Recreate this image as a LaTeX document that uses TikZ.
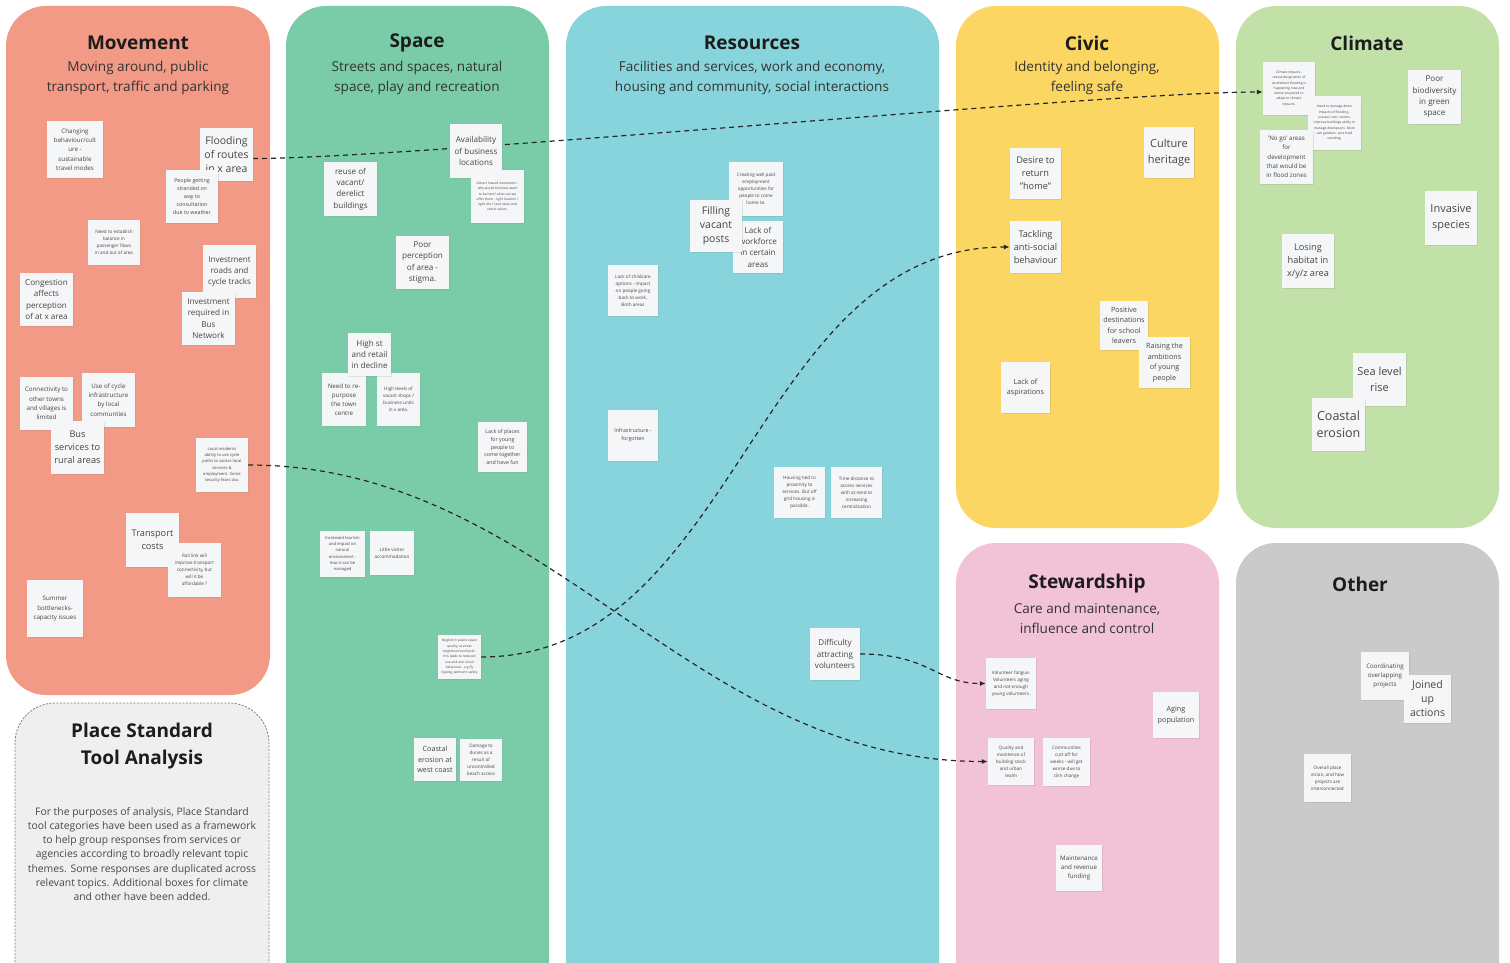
\documentclass[tikz,border=0pt]{standalone}
\usepackage{fontspec}
\setmainfont{Open Sans}
\usetikzlibrary{arrows.meta,shadows}

\definecolor{movecol}{HTML}{F29A86}
\definecolor{spacecol}{HTML}{7ACCA8}
\definecolor{rescol}{HTML}{88D4DC}
\definecolor{civiccol}{HTML}{FBD662}
\definecolor{climcol}{HTML}{C1E1A8}
\definecolor{stewcol}{HTML}{F2C3D6}
\definecolor{othercol}{HTML}{CACACA}
\definecolor{placecol}{HTML}{EFEFEF}
\definecolor{notefill}{HTML}{F5F6F8}
\definecolor{notetext}{HTML}{454545}
\definecolor{headtext}{HTML}{1C1C1C}

\pgfdeclarelayer{bg}
\pgfdeclarelayer{links}
\pgfsetlayers{bg,links,main}

\tikzset{
  column/.style={rounded corners=40pt},
  title/.style={text=headtext, font=\fontsize{19}{27}\selectfont\bfseries, align=center},
  subtitle/.style={text=headtext!90, font=\fontsize{13.6}{20}\selectfont, align=center},
  note/.style={fill=notefill, text=notetext, align=center, inner sep=0pt,
    minimum width=53pt, minimum height=53pt,
    drop shadow={shadow xshift=.8pt, shadow yshift=-.8pt, opacity=.18}},
  sz/.style 2 args={minimum width=#1pt, minimum height=#2pt},
  fA/.style={font=\fontsize{11}{16}\selectfont},
  fB/.style={font=\fontsize{10.5}{14}\selectfont},
  fC/.style={font=\fontsize{9.2}{13}\selectfont},
  fD/.style={font=\fontsize{8.1}{11.3}\selectfont},
  fE/.style={font=\fontsize{7.2}{10.5}\selectfont},
  fF/.style={font=\fontsize{6.2}{9.2}\selectfont},
  fG/.style={font=\fontsize{5.3}{7.8}\selectfont},
  fH/.style={font=\fontsize{4.6}{7}\selectfont},
  fI/.style={font=\fontsize{4.1}{6.2}\selectfont},
  fJ/.style={font=\fontsize{3.3}{5.3}\selectfont},
  link/.style={draw=black!85, line width=1.2pt, dash pattern=on 5pt off 4pt,
    -{Latex[length=6pt,width=5pt]}},
}

\begin{document}
\begin{tikzpicture}[x=1pt,y=-1pt]
  \useasboundingbox (0,0) rectangle (1510,963);
  \clip (0,0) rectangle (1510,963);

  % the topic columns
  \begin{pgfonlayer}{bg}
    \fill[white] (0,0) rectangle (1510,963);
    \fill[movecol,column] (6,6) rectangle (270,695);
    \fill[spacecol,column] (286,6) rectangle (549,1010);
    \fill[rescol,column] (566,6) rectangle (939,1010);
    \fill[civiccol,column] (956,6) rectangle (1219,528);
    \fill[climcol,column] (1236,6) rectangle (1499,528);
    \fill[stewcol,column] (956,543) rectangle (1219,1010);
    \fill[othercol,column] (1236,543) rectangle (1499,1010);
    \filldraw[placecol,draw=black!50,line width=.8pt,dash pattern=on 2pt off 1.5pt,column]
      (15,703) rectangle (269,1010);
  \end{pgfonlayer}

  % headings
  \draw
    (138,43) node[title] (movehead) {Movement}
    (138,78) node[subtitle] (movesub) {Moving around, public\\transport, traffic and parking}
    (417,43) node[title] (spacehead) {Space}
    (417,78) node[subtitle] (spacesub) {Streets and spaces, natural\\space, play and recreation}
    (752,43) node[title] (reshead) {Resources}
    (752,78) node[subtitle] (ressub) {Facilities and services, work and economy,\\housing and community, social interactions}
    (1087,43) node[title] (civichead) {Civic}
    (1087,78) node[subtitle] (civicsub) {Identity and belonging,\\feeling safe}
    (1367,43) node[title] (climhead) {Climate}
    (1087,584) node[title] (stewhead) {Stewardship}
    (1087,618) node[subtitle] (stewsub) {Care and maintenance,\\influence and control}
    (1360,584) node[title] (otherhead) {Other}
    (142,746) node[title] (placehead) {Place Standard\\Tool Analysis}
    (142,854) node[subtitle,font=\fontsize{10.4}{14.3}\selectfont,text=headtext!80] (placetext)
      {For the purposes of analysis, Place Standard\\tool categories have been used as a framework\\to help group responses from services or\\agencies according to broadly relevant topic\\themes. Some responses are duplicated across\\relevant topics. Additional boxes for climate\\and other have been added.};

  % movement
  \draw
    (75,149.5) node[note,fF,sz={56}{57}] (chg) {Changing\\behaviour/cult\\ure -\\sustainable\\travel modes}
    (226.5,154.5) node[note,fB] (flood) {Flooding\\of routes\\in x area}
    (192,196.5) node[note,fG,sz={52}{53}] (strand) {People getting\\stranded on\\way to\\consultation\\due to weather}
    (114,242.5) node[note,fH,sz={52}{45}] (balance) {Need to establish\\balance in\\passenger flows\\in and out of area}
    (229.5,271.5) node[note,fD] (invroad) {Investment\\roads and\\cycle tracks}
    (208.5,318.5) node[note,fD] (invbus) {Investment\\required in\\Bus\\Network}
    (46.5,299.5) node[note,fD] (cong) {Congestion\\affects\\perception\\of at x area}
    (46.5,403.5) node[note,fF] (conn) {Connectivity to\\other towns\\and villages is\\limited}
    (108.5,400) node[note,fF,sz={53}{54}] (cycle) {Use of cycle\\infrastructure\\by local\\communties}
    (77.5,447.5) node[note,fC] (bus) {Bus\\services to\\rural areas}
    (222,465) node[note,fI,sz={52}{54}] (local) {Local residents\\ability to use cycle\\paths to access local\\services \&\\employment. Some\\security fears too.}
    (152.5,540) node[note,fC,sz={53}{54}] (tcost) {Transport\\costs}
    (194.5,570) node[note,fH,sz={53}{54}] (rail) {Rail link will\\improve transport\\connectivity, but\\will it be\\affordable ?}
    (55,608.5) node[note,fF,sz={56}{57}] (summer) {Summer\\bottlenecks-\\capacity issues};

  % space
  \draw
    (476,151) node[note,fD,sz={52}{54}] (avail) {Availability\\of business\\locations}
    (497.5,196.5) node[note,fJ] (attract) {Attract inward investment -\\why would business want\\to be here? what can we\\offer them - right location /\\right site / land value and\\rental values.}
    (350.5,189) node[note,fD,sz={53}{54}] (reuse) {reuse of\\vacant/\\derelict\\buildings}
    (422.5,262.5) node[note,fD] (poor) {Poor\\perception\\of area -\\stigma.}
    (344,399.5) node[note,fF,sz={44}{53}] (repurp) {Need to re-\\purpose\\the town\\centre}
    (398.5,399.5) node[note,fH,sz={43}{53}] (vacshop) {High levels of\\vacant shops /\\business units\\in x area.}
    (369.5,354.5) node[note,fD,sz={43}{43}] (highst) {High st\\and retail\\in decline}
    (502.5,447) node[note,fG,sz={49}{50}] (young) {Lack of places\\for young\\people to\\come together\\and have fun}
    (342.5,554) node[note,fI,sz={45}{46}] (tourism) {Increased tourism\\and impact on\\natural\\environment -\\how it can be\\managed}
    (392,553) node[note,fH,sz={44}{44}] (visitor) {Little visitor\\accommodation}
    (459.5,657) node[note,fJ,sz={43}{44}] (neglect) {Neglect in public space\\quality, at street\\neighbourhood level -\\this leads to reduced\\use and anti social\\behaviour - e.g fly\\tipping, woman's safety}
    (435,759.5) node[note,fE,sz={42}{43}] (coastw) {Coastal\\erosion at\\west coast}
    (481,760) node[note,fH,sz={42}{42}] (dunes) {Damage to\\dunes as a\\result of\\uncontrolled\\beach access};

  % resources
  \draw
    (756,189) node[note,fH,sz={54}{54}] (create) {Creating well paid\\employment\\opportunities for\\people to come\\home to.}
    (758,247) node[note,fD,sz={50}{52}] (workforce) {Lack of\\workforce\\in certain\\areas}
    (716,226) node[note,fB,sz={52}{52}] (filling) {Filling\\vacant\\posts}
    (633,290.5) node[note,fH,sz={50}{51}] (childcare) {Lack of childcare\\options - impact\\on people going\\back to work.\\Both areas}
    (633,435.5) node[note,fG,sz={50}{51}] (infra) {Infrastructure -\\forgotten}
    (799.5,492.5) node[note,fH,sz={51}{51}] (housing) {Housing tied to\\proximity to\\services. But off\\grid housing is\\possible.}
    (856.5,492.5) node[note,fH,sz={51}{51}] (timedist) {Time distance to\\access services\\with at rend to\\increasing\\centralisation}
    (835,654) node[note,fD,sz={50}{52}] (volunt) {Difficulty\\attracting\\volunteers};

  % civic
  \draw
    (1035.5,173.5) node[note,fC,sz={51}{51}] (desire) {Desire to\\return\\"home"}
    (1169,152.5) node[note,fA,sz={50}{51}] (culture) {Culture\\heritage}
    (1035.5,247) node[note,fC,sz={51}{52}] (tackling) {Tackling\\anti-social\\behaviour}
    (1124,325.5) node[note,fE,sz={48}{49}] (posdest) {Positive\\destinations\\for school\\leavers}
    (1164.5,362.5) node[note,fE,sz={51}{51}] (raising) {Raising the\\ambitions\\of young\\people}
    (1025.5,387.5) node[note,fE,sz={49}{51}] (lackasp) {Lack of\\aspirations};

  % climate
  \draw
    (1289,88.5) node[note,fJ,sz={52}{53}] (climimp) {Climate impacts -\\review designation of\\land where flooding is\\happening now and\\where projected to\\adapt to climate\\impacts.}
    (1334.5,123) node[note,fJ,sz={53}{54}] (manage) {Need to manage down\\impacts of flooding -\\coastal, river, storms.\\Improve buildings ability to\\manage downpours. More\\rain gardens. Less hard\\standing.}
    (1286.5,157) node[note,fF,sz={53}{54}] (nogo) {'No go' areas\\for\\development\\that would be\\in flood zones}
    (1434.5,97) node[note,fD,sz={53}{54}] (biodiv) {Poor\\biodiversity\\in green\\space}
    (1451,218) node[note,fA,sz={52}{54}] (invasive) {Invasive\\species}
    (1308,261) node[note,fC,sz={52}{54}] (habitat) {Losing\\habitat in\\x/y/z area}
    (1379.5,379.5) node[note,fA] (sealevel) {Sea level\\rise}
    (1338.5,424.5) node[note,font=\fontsize{12.5}{17}\selectfont] (coastal) {Coastal\\erosion};

  % stewardship
  \draw
    (1011,683.5) node[note,fH,sz={50}{51}] (volfat) {Volunteer fatigue.\\Volunteers aging\\and not enough\\young volunteers.}
    (1176,715) node[note,fE,sz={46}{46}] (aging) {Aging\\population}
    (1011,761.5) node[note,fH,sz={46}{47}] (quality) {Quality and\\maintence of\\building stock\\and urban\\realm}
    (1066.5,762) node[note,fH,sz={47}{48}] (cutoff) {Communities\\cutt off for\\weeks - will get\\worse due to\\clim change}
    (1079,868) node[note,fF,sz={46}{46}] (funding) {Maintenance\\and revenue\\funding};

  % other
  \draw
    (1385,676) node[note,fF,sz={48}{48}] (coord) {Coordinating\\overlapping\\projects}
    (1427.5,699) node[note,fB,sz={47}{48}] (joined) {Joined\\up\\actions}
    (1327.5,778) node[note,fH,sz={47}{48}] (vision) {Overall place\\vision, and how\\projects are\\interconnected};

  % links between topics
  \begin{pgfonlayer}{links}
  \begin{scope}[link]
    \draw ([yshift=-4pt]flood.east) .. controls +(160,0) and +(-160,0) .. ([yshift=-3.5pt]climimp.west);
    \draw (local.east) .. controls +(300,0) and +(-300,0) .. (quality.west);
    \draw (neglect.east) .. controls +(256,0) and +(-256,0) .. (tackling.west);
    \draw (volunt.east) .. controls +(70,0) and +(-50,0) .. (volfat.west);
  \end{scope}
  \end{pgfonlayer}
\end{tikzpicture}
\end{document}
